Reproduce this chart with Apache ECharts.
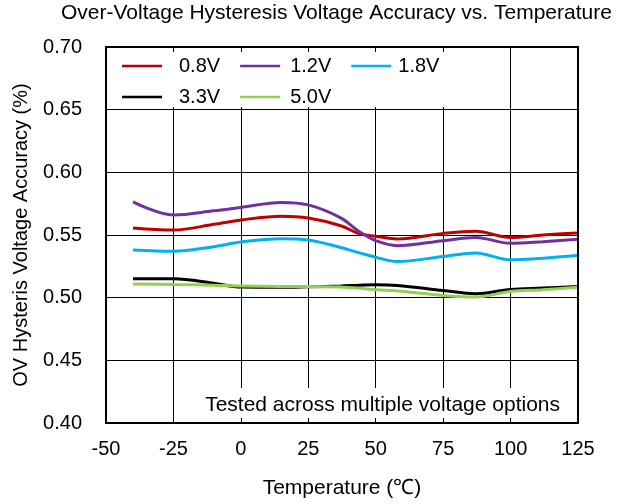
<!DOCTYPE html>
<html>
<head>
<meta charset="utf-8">
<script src="https://cdn.jsdelivr.net/npm/echarts@6/dist/echarts.min.js"></script>
<style>html,body{margin:0;padding:0;background:#fff}#c{width:638px;height:504px}</style>
</head>
<body>
<div id="c"></div>
<script>
var temps = [-40, -25, -10, 0, 15, 25, 37, 44, 50, 58, 75, 87, 100, 112, 125];
var v08 = [0.5556, 0.554, 0.5585, 0.562, 0.565, 0.5635, 0.5574, 0.551, 0.549, 0.5468, 0.5513, 0.553, 0.548, 0.550, 0.5516];
var v12 = [0.5764, 0.566, 0.5693, 0.572, 0.576, 0.574, 0.5637, 0.5525, 0.5455, 0.5415, 0.5455, 0.548, 0.5434, 0.5447, 0.5466];
var v18 = [0.538, 0.537, 0.5407, 0.5444, 0.547, 0.546, 0.540, 0.5357, 0.5323, 0.5288, 0.5329, 0.5357, 0.5302, 0.5315, 0.5336];
var v33 = [0.515, 0.515, 0.5115, 0.5085, 0.5083, 0.5087, 0.5093, 0.510, 0.5103, 0.5098, 0.5058, 0.5032, 0.5066, 0.5077, 0.509];
var v50 = [0.511, 0.5105, 0.510, 0.5093, 0.509, 0.509, 0.5085, 0.5075, 0.5063, 0.5053, 0.5018, 0.5005, 0.505, 0.5063, 0.5083];
var xTicks = [-50, -25, 0, 25, 50, 75, 100, 125];
var yTicks = ['0.40', '0.45', '0.50', '0.55', '0.60', '0.65', '0.70'];

var FONT = 'Liberation Sans, Arial, sans-serif';
function pairs(ys){ return temps.map(function(t,i){ return [t, ys[i]]; }); }
function mk(name, ys, color){
  return { name: name, type: 'line', data: pairs(ys), smooth: 0.35, symbol: 'none',
           lineStyle: { color: color, width: 3 }, itemStyle: { color: color }, z: 3 };
}
var xBase = { type: 'value', min: xTicks[0], max: xTicks[xTicks.length-1], interval: 25 };
var yBase = { type: 'value', min: parseFloat(yTicks[0]), max: parseFloat(yTicks[yTicks.length-1]), interval: 0.05 };
function ext(a,b){ var o={}; for(var k in a)o[k]=a[k]; for(var k2 in b)o[k2]=b[k2]; return o; }

var chart = echarts.init(document.getElementById('c'), null, { renderer: 'canvas' });
chart.setOption({
  animation: false,
  textStyle: { fontFamily: FONT },
  title: [
    { text: 'Over-Voltage Hysteresis Voltage Accuracy vs. Temperature', left: 61, top: 3, padding: 0,
      textStyle: { fontSize: 21, fontWeight: 'normal', color: '#000', fontFamily: FONT } },
    { text: 'Tested across multiple voltage options', right: 62, bottom: 82, padding: [7, 16, 6, 14],
      backgroundColor: '#fff',
      textStyle: { fontSize: 21, fontWeight: 'normal', color: '#000', fontFamily: FONT } }
  ],
  grid: { left: 106, right: 60, top: 47, bottom: 80 },
  legend: [
    { left: 107, top: 49, padding: [7, 20, 31, 15], backgroundColor: '#fff', itemWidth: 40, itemHeight: 2.5, itemGap: 20,
      icon: 'rect', z: 4,
      textStyle: { fontSize: 20, color: '#000', fontFamily: FONT },
      data: [ { name: '0.8V', textStyle: { padding: [0,0,0,12] } },
              { name: '1.2V', textStyle: { padding: [0,0,0,5] } },
              { name: '1.8V', textStyle: { padding: [0,0,0,2] } } ] },
    { left: 122, top: 87, padding: 0, itemWidth: 40, itemHeight: 2.5, itemGap: 20,
      icon: 'rect', z: 5,
      textStyle: { fontSize: 20, color: '#000', fontFamily: FONT },
      data: [ { name: '3.3V', textStyle: { padding: [0,0,0,12] } },
              { name: '5.0V', textStyle: { padding: [0,0,0,5] } } ] }
  ],
  xAxis: [
    ext(xBase, { position: 'bottom', z: 0,
      name: 'Temperature (\u2103)', nameLocation: 'middle', nameGap: 55,
      nameTextStyle: { fontSize: 21, color: '#000', fontFamily: FONT },
      axisLine: { show: false }, axisTick: { show: false },
      axisLabel: { fontSize: 20, color: '#000', margin: 16, fontFamily: FONT },
      splitLine: { show: true, lineStyle: { color: '#000', width: 1 } } }),
    ext(xBase, { position: 'bottom', z: 10,
      axisLine: { show: true, onZero: false, lineStyle: { color: '#000', width: 2 } },
      axisTick: { show: true, inside: true, length: 5, lineStyle: { color: '#000', width: 1 } },
      axisLabel: { show: false }, splitLine: { show: false } }),
    ext(xBase, { position: 'top', z: 10,
      axisLine: { show: true, onZero: false, lineStyle: { color: '#000', width: 2 } },
      axisTick: { show: true, inside: true, length: 5, lineStyle: { color: '#000', width: 1 } },
      axisLabel: { show: false }, splitLine: { show: false } })
  ],
  yAxis: [
    ext(yBase, { position: 'left', z: 0,
      name: 'OV Hysteris Voltage Accuracy (%)', nameLocation: 'middle', nameGap: 75, nameRotate: 90,
      nameTextStyle: { fontSize: 20, color: '#000', fontFamily: FONT },
      axisLine: { show: false }, axisTick: { show: false },
      axisLabel: { fontSize: 20, color: '#000', margin: 24, fontFamily: FONT,
                   formatter: function(v){ return yTicks[Math.round((v - parseFloat(yTicks[0]))/0.05)]; } },
      splitLine: { show: true, lineStyle: { color: '#000', width: 1 } } }),
    ext(yBase, { position: 'left', z: 10,
      axisLine: { show: true, onZero: false, lineStyle: { color: '#000', width: 2 } },
      axisTick: { show: true, inside: true, length: 5, lineStyle: { color: '#000', width: 1 } },
      axisLabel: { show: false }, splitLine: { show: false } }),
    ext(yBase, { position: 'right', z: 10,
      axisLine: { show: true, onZero: false, lineStyle: { color: '#000', width: 2 } },
      axisTick: { show: false }, axisLabel: { show: false }, splitLine: { show: false } })
  ],
  series: [
    mk('0.8V', v08, '#C00000'),
    mk('1.2V', v12, '#7030A0'),
    mk('1.8V', v18, '#00B0F0'),
    mk('3.3V', v33, '#000000'),
    mk('5.0V', v50, '#92D050')
  ]
});
</script>
</body>
</html>
